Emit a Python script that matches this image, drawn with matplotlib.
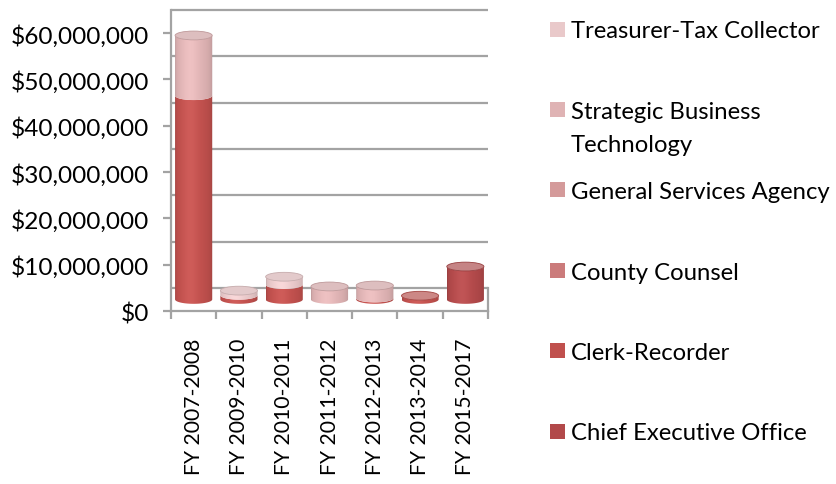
import numpy as np
import matplotlib
matplotlib.use("Agg")
from matplotlib import pyplot as plt
from matplotlib.patches import Polygon, Ellipse, Rectangle
from matplotlib.ticker import FuncFormatter

plt.rcParams['font.family'] = ['Lato', 'DejaVu Sans']

# Fiscal years on the x axis
years = ["FY 2007-2008", "FY 2009-2010", "FY 2010-2011", "FY 2011-2012",
         "FY 2012-2013", "FY 2013-2014", "FY 2015-2017"]

# Stacked amounts per department (bottom of the stack first)
chief_exec = [0, 0, 0, 0, 0, 0, 7_100_000]
clerk_recorder = [44_000_000, 900_000, 3_200_000, 0, 300_000, 800_000, 0]
county_counsel = [0, 0, 0, 0, 0, 0, 0]
general_services = [0, 0, 0, 0, 0, 0, 0]
strategic_tech = [13_000_000, 0, 0, 2_800_000, 2_700_000, 0, 0]
treasurer = [0, 1_000_000, 1_700_000, 0, 0, 0, 0]

series_names = ["Chief Executive Office", "Clerk-Recorder", "County Counsel",
                "General Services Agency", "Strategic Business\nTechnology",
                "Treasurer-Tax Collector"]
series_values = [chief_exec, clerk_recorder, county_counsel,
                 general_services, strategic_tech, treasurer]
series_colors = ["#B2494A", "#C0504D", "#CB7B7B", "#D49A9A", "#DFB3B4", "#E9C9CA"]

y_ticks = list(range(0, 60_000_001, 10_000_000))

GRID = "#A3A3A3"
DEPTH = 5_000_000      # back wall sits one half-step above the front axis
RX = 0.41              # cylinder half width (category units)
RY = 0.95e6            # half height of the elliptical caps (data units)


def shade_row(color, n=80):
    rgb = np.array(matplotlib.colors.to_rgb(color))
    t = np.linspace(-1, 1, n)
    nz = np.sqrt(np.clip(1 - t ** 2, 0, 1))
    lam = 0.80 + 0.22 * nz ** 0.6 - 0.03 * t
    spec = 0.04 * np.exp(-((t + 0.2) / 0.4) ** 2)
    row = rgb[None, :] * lam[:, None] + spec[:, None]
    return np.clip(row, 0, 1)[None, :, :]


def cylinder_part(ax, xc, y0, y1, color):
    ang = np.linspace(np.pi, 2 * np.pi, 50)
    bx = xc + RX * np.cos(ang)
    by = y0 + RY * np.sin(ang)
    ty = y1 + RY * np.sin(ang)
    verts = np.column_stack([np.r_[bx, bx[::-1]], np.r_[by, ty[::-1]]])
    poly = Polygon(verts, closed=True, facecolor="none", edgecolor="none")
    ax.add_patch(poly)
    im = ax.imshow(shade_row(color), extent=[xc - RX, xc + RX, y0 - RY, y1 + RY],
                   aspect="auto", interpolation="bilinear", zorder=3)
    im.set_clip_path(poly)


def cap(ax, xc, y, color):
    rgb = np.array(matplotlib.colors.to_rgb(color))
    light = rgb * 0.55 + np.array([0.86, 0.80, 0.80]) * 0.45
    ax.add_patch(Ellipse((xc, y), 2 * RX, 2 * RY, facecolor=light,
                         edgecolor=rgb * 0.85, linewidth=0.6, zorder=4))


fig = plt.figure(figsize=(8.37, 4.85), dpi=100)
ax = fig.add_axes([171 / 837, (485 - 312) / 485, (488 - 171) / 837, 301 / 485])

x = np.arange(len(years))
for i in x:
    base = DEPTH / 2
    top_color = None
    for vals, col in zip(series_values, series_colors):
        v = vals[i]
        if v <= 0:
            continue
        cylinder_part(ax, i, base, base + v, col)
        base += v
        top_color = col
    if top_color is not None:
        cap(ax, i, base, top_color)

# back wall gridlines and right edge of the floor
for yv in y_ticks:
    ax.plot([-0.5, 6.5], [yv + DEPTH, yv + DEPTH], color=GRID, lw=1.6,
            zorder=1, clip_on=False, solid_capstyle="butt")
ax.plot([6.5, 6.5], [0, DEPTH], color=GRID, lw=1.6, zorder=1, clip_on=False)

ax.set_xlim(-0.5, 6.5)
ax.set_ylim(0, 65_000_000)

for s in ["top", "right"]:
    ax.spines[s].set_visible(False)
for s in ["left", "bottom"]:
    ax.spines[s].set_color(GRID)
    ax.spines[s].set_linewidth(1.6)

ax.set_yticks(y_ticks)
ax.yaxis.set_major_formatter(FuncFormatter(lambda v, p: f"${v:,.0f}"))
ax.tick_params(axis="y", length=6, width=1.6, color=GRID, labelsize=17.6, pad=10)

ax.set_xticks(x)
ax.set_xticklabels(years, rotation=90, va="top", ha="center")
ax.set_xticks(np.arange(-0.5, 7, 1), minor=True)
ax.tick_params(axis="x", which="major", length=0, labelsize=15.2, pad=19)
ax.tick_params(axis="x", which="minor", length=6, width=1.6, color=GRID)

# legend on the right, top entry is the last series in the stack
for k, (name, col) in enumerate(zip(series_names[::-1], series_colors[::-1])):
    yc = 30 + k * 80.4
    fig.patches.append(Rectangle((550 / 837, (485 - yc - 7.5) / 485), 15 / 837, 15 / 485,
                                 transform=fig.transFigure, facecolor=col, edgecolor="none"))
    for j, line in enumerate(name.split("\n")):
        fig.text(571 / 837, (485 - yc - 33 * j) / 485, line, fontsize=17.2,
                 va="center_baseline", ha="left")

fig.savefig("out.png", dpi=100)
